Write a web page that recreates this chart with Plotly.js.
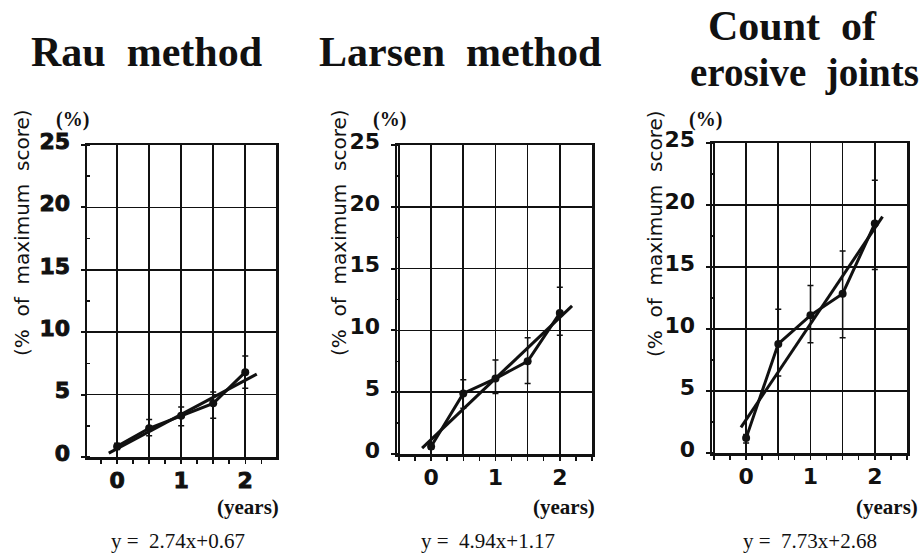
<!DOCTYPE html>
<html>
<head>
<meta charset="utf-8">
<script src="https://cdn.plot.ly/plotly-3.0.1.min.js"></script>
<style>
html,body{margin:0;padding:0;background:#fff;}
.xtick text, .ytick text { stroke: #111; stroke-width: 0.9px; }
</style>
</head>
<body>
<div id="chart" style="width:924px;height:553px;"></div>
<script>
// ---- data ----
const years = [0, 0.5, 1, 1.5, 2];
const panelTitles = [["Rau  method"], ["Larsen  method"], ["Count  of", "erosive  joints"]];
const yTitle = "(%\u00a0\u00a0of\u00a0\u00a0maximum\u00a0\u00a0score)";
const rauMean = [0.85, 2.3, 3.3, 4.3, 6.8];
const rauUpper = [1.1, 3.0, 4.0, 5.2, 8.1];
const rauLower = [0.6, 1.7, 2.5, 3.1, 5.5];
const larsenMean = [0.6, 4.9, 6.1, 7.5, 11.4];
const larsenUpper = [0.9, 6.0, 7.6, 9.4, 13.5];
const larsenLower = [0.4, 3.7, 4.9, 5.7, 9.6];
const erosiveMean = [1.2, 8.8, 11.1, 12.85, 18.5];
const erosiveUpper = [1.5, 11.6, 13.5, 16.3, 22.0];
const erosiveLower = [0.8, 6.2, 8.9, 9.3, 14.8];
const fitSlopes = [2.74, 4.94, 7.73];
const fitIntercepts = [0.67, 1.17, 2.68];
const fitXStart = [-0.13, -0.14, -0.08];
const fitXEnd = [2.18, 2.19, 2.12];
const equations = ["y =\u00a0\u00a02.74x+0.67", "y =\u00a0\u00a04.94x+1.17", "y =\u00a0\u00a07.73x+2.68"];
const xTickVals = [-0.5, 0, 0.5, 1, 1.5, 2, 2.5];
const xTickText = ["", "0", "", "1", "", "2", ""];

const means = [rauMean, larsenMean, erosiveMean];
const uppers = [rauUpper, larsenUpper, erosiveUpper];
const lowers = [rauLower, larsenLower, erosiveLower];

// ---- layout geometry (pixels) ----
const W = 924, H = 553;
const px = v => v / W, py = v => 1 - v / H;
const plotBoxes = [
  {l: 87, r: 276, t: 145, b: 457, xr: [-0.47, 2.48]},
  {l: 397, r: 592, t: 145, b: 454, xr: [-0.53, 2.5]},
  {l: 712, r: 907, t: 143, b: 453, xr: [-0.53, 2.5]}
];
const titlePos = [[[146, 52]], [[460, 52]], [[792, 26], [804, 73]]];
const titleSizes = [[42], [42], [42, 39]];
const yTitlePos = [[22, 233], [339, 233], [655, 234]];
const pctPos = [[72, 120], [389, 119], [705, 120]];
const yearsPos = [[248, 507], [564, 507], [887, 507]];
const eqPos = [[178, 541], [488, 541], [810, 541]];

const traces = [];
const layout = {
  width: W, height: H,
  margin: {l: 0, r: 0, t: 0, b: 0},
  paper_bgcolor: "#fff", plot_bgcolor: "#fff",
  showlegend: false,
  annotations: []
};

const black = "#111";
const tickFont = {family: "DejaVu Sans, Arial, sans-serif", size: 22, color: black, weight: "bold"};

for (let i = 0; i < 3; i++) {
  const ax = i === 0 ? "" : String(i + 1);
  const xa = "x" + ax, ya = "y" + ax;
  const eu = uppers[i].map((u, k) => u - means[i][k]);
  const el = lowers[i].map((l, k) => means[i][k] - l);
  traces.push({
    type: "scatter", mode: "lines+markers", x: years, y: means[i],
    xaxis: xa, yaxis: ya,
    line: {color: black, width: 3},
    marker: {color: black, size: 8, symbol: "circle"},
    error_y: {type: "data", symmetric: false, array: eu, arrayminus: el,
              color: black, thickness: 1.5, width: 3},
    hoverinfo: "skip"
  });
  const fx = [fitXStart[i], fitXEnd[i]];
  traces.push({
    type: "scatter", mode: "lines", x: fx,
    y: fx.map(v => fitSlopes[i] * v + fitIntercepts[i]),
    xaxis: xa, yaxis: ya,
    line: {color: black, width: 3},
    hoverinfo: "skip"
  });

  const b = plotBoxes[i];
  layout["xaxis" + ax] = {
    domain: [px(b.l), px(b.r)], range: b.xr, anchor: ya,
    tickmode: "array", tickvals: xTickVals, ticktext: xTickText,
    showgrid: true, gridcolor: black, gridwidth: 1.6,
    showline: true, linecolor: black, linewidth: 2.5, mirror: true,
    ticks: "", tickfont: tickFont, ticklabelstandoff: 2,
    zeroline: false, fixedrange: true,
    minor: {dtick: 0.25, tick0: 0, ticks: "outside", ticklen: 4, tickwidth: 1.5, tickcolor: black, showgrid: false}
  };
  layout["yaxis" + ax] = {
    domain: [py(b.b), py(b.t)], range: [0, 25], anchor: xa,
    dtick: 5, tick0: 0,
    showgrid: true, gridcolor: black, gridwidth: 1.6,
    showline: true, linecolor: black, linewidth: 2.5, mirror: true,
    ticks: "outside", ticklen: 4, tickwidth: 2, tickcolor: black,
    tickfont: tickFont, ticklabelstandoff: 6, ticklabelshift: -4,
    zeroline: false, fixedrange: true,
    minor: {dtick: 2.5, ticks: "inside", ticklen: 3, tickwidth: 1.5, tickcolor: black, showgrid: false}
  };

  const ann = layout.annotations;
  panelTitles[i].forEach((line, j) => {
    ann.push({xref: "paper", yref: "paper", x: px(titlePos[i][j][0]), y: py(titlePos[i][j][1]),
      xanchor: "center", yanchor: "middle", showarrow: false, text: line,
      font: {family: "Liberation Serif, Times New Roman, serif", size: titleSizes[i][j], color: black, weight: "bold"}});
  });
  ann.push({xref: "paper", yref: "paper", x: px(yTitlePos[i][0]), y: py(yTitlePos[i][1]),
    xanchor: "center", yanchor: "middle", showarrow: false, text: yTitle, textangle: -90,
    font: {family: "DejaVu Sans, Arial, sans-serif", size: 20, color: black}});
  ann.push({xref: "paper", yref: "paper", x: px(pctPos[i][0]), y: py(pctPos[i][1]),
    xanchor: "center", yanchor: "middle", showarrow: false, text: "(%)",
    font: {family: "Liberation Serif, Times New Roman, serif", size: 20, color: black, weight: "bold"}});
  ann.push({xref: "paper", yref: "paper", x: px(yearsPos[i][0]), y: py(yearsPos[i][1]),
    xanchor: "center", yanchor: "middle", showarrow: false, text: "(years)",
    font: {family: "Liberation Serif, Times New Roman, serif", size: 21, color: black, weight: "bold"}});
  ann.push({xref: "paper", yref: "paper", x: px(eqPos[i][0]), y: py(eqPos[i][1]),
    xanchor: "center", yanchor: "middle", showarrow: false, text: equations[i],
    font: {family: "Liberation Serif, Times New Roman, serif", size: 21, color: black}});
}

Plotly.newPlot("chart", traces, layout, {staticPlot: true, displayModeBar: false});
</script>
</body>
</html>
